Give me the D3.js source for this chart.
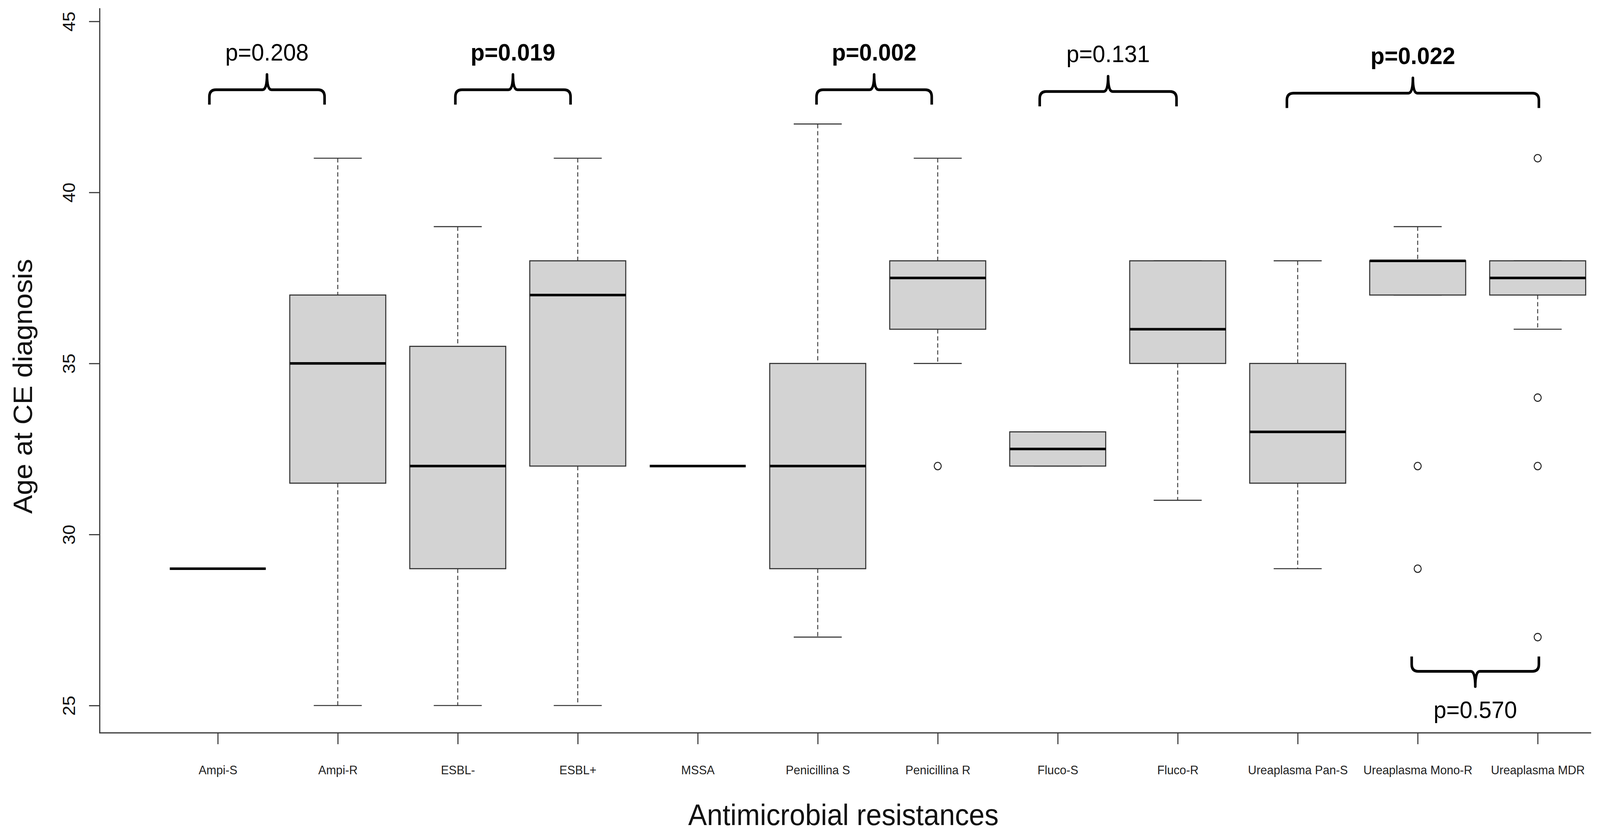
<!DOCTYPE html>
<html lang="en">
  <head>
    <meta charset="UTF-8" />
    <title>Age at CE diagnosis by antimicrobial resistance</title>
    <script src="https://d3js.org/d3.v7.min.js"></script>
    <style>
      html,
      body {
        margin: 0;
        padding: 0;
        overflow: hidden;
        background-color: #ffffff;
        font-family: "Liberation Sans", Arial, sans-serif;
      }
      svg {
        display: block;
        width: 100vw;
        height: 100vh;
      }
      .tick-x text {
        font-size: 32px;
        fill: #222;
      }
      .tick-y text {
        font-size: 46px;
        fill: #111;
      }
      .p-label {
        font-size: 62px;
        fill: #000;
        text-anchor: middle;
      }
    </style>
  </head>
  <body>
    <svg id="chart" viewBox="0 0 4331 2140" preserveAspectRatio="none"></svg>

    <script>
      // Groups and box statistics
      const categories = [
        "Ampi-S",
        "Ampi-R",
        "ESBL-",
        "ESBL+",
        "MSSA",
        "Penicillina S",
        "Penicillina R",
        "Fluco-S",
        "Fluco-R",
        "Ureaplasma Pan-S",
        "Ureaplasma Mono-R",
        "Ureaplasma MDR",
      ];
      const whiskerLow = [29, 25, 25, 25, 32, 27, 35, 32, 31, 29, 37, 36];
      const q1 = [29, 31.5, 29, 32, 32, 29, 36, 32, 35, 31.5, 37, 37];
      const medians = [29, 35, 32, 37, 32, 32, 37.5, 32.5, 36, 33, 38, 37.5];
      const q3 = [29, 37, 35.5, 38, 32, 35, 38, 33, 38, 35, 38, 38];
      const whiskerHigh = [29, 41, 39, 41, 32, 42, 41, 33, 38, 38, 39, 38];
      const outliers = [[], [], [], [], [], [], [32], [], [], [], [32, 29], [41, 34, 32, 27]];

      const yTicks = [25, 30, 35, 40, 45];

      // p-value annotations (brace span in group positions, brace level in years)
      const pLabels = ["p=0.208", "p=0.019", "p=0.002", "p=0.131", "p=0.022", "p=0.570"];
      const pBold = [false, true, true, false, true, false];
      const braceFrom = [0.93, 2.98, 5.99, 7.85, 9.91, 10.95];
      const braceTo = [1.89, 3.94, 6.95, 8.99, 12.01, 12.01];
      const braceLevel = [43, 43, 43, 42.95, 42.9, 26];
      const braceUp = [true, true, true, true, true, false];

      const svg = d3.select("#chart");

      const axisLeftX = 270,
        axisBottomY = 1876;

      const x = d3.scaleLinear().domain([1, 12]).range([589.5, 4162.3]);
      const y = d3.scaleLinear().domain([25, 45]).range([1806, 54.7]);
      const step = x(2) - x(1);
      const boxW = step * 0.8;
      const capW = step * 0.4;

      const groups = categories.map((c, i) => ({
        label: c,
        pos: i + 1,
        lo: whiskerLow[i],
        q1: q1[i],
        med: medians[i],
        q3: q3[i],
        hi: whiskerHigh[i],
        out: outliers[i],
      }));

      const g = svg
        .selectAll(".box")
        .data(groups)
        .enter()
        .append("g")
        .attr("class", "box");

      // Whiskers (dashed)
      g.append("line")
        .attr("x1", (d) => x(d.pos))
        .attr("x2", (d) => x(d.pos))
        .attr("y1", (d) => y(d.hi))
        .attr("y2", (d) => y(d.q3))
        .attr("stroke", "#333")
        .attr("stroke-width", 2.4)
        .attr("stroke-dasharray", "11,7");
      g.append("line")
        .attr("x1", (d) => x(d.pos))
        .attr("x2", (d) => x(d.pos))
        .attr("y1", (d) => y(d.q1))
        .attr("y2", (d) => y(d.lo))
        .attr("stroke", "#333")
        .attr("stroke-width", 2.4)
        .attr("stroke-dasharray", "11,7");

      // Staples
      ["hi", "lo"].forEach((k) => {
        g.append("line")
          .attr("x1", (d) => x(d.pos) - capW / 2)
          .attr("x2", (d) => x(d.pos) + capW / 2)
          .attr("y1", (d) => y(d[k]))
          .attr("y2", (d) => y(d[k]))
          .attr("stroke", "#333")
          .attr("stroke-width", 2.6);
      });

      // Boxes
      g.filter((d) => d.q3 > d.q1)
        .append("rect")
        .attr("x", (d) => x(d.pos) - boxW / 2)
        .attr("width", boxW)
        .attr("y", (d) => y(d.q3))
        .attr("height", (d) => y(d.q1) - y(d.q3))
        .attr("fill", "#d3d3d3")
        .attr("stroke", "#333")
        .attr("stroke-width", 2.8);

      // Medians
      g.append("line")
        .attr("x1", (d) => x(d.pos) - boxW / 2)
        .attr("x2", (d) => x(d.pos) + boxW / 2)
        .attr("y1", (d) => y(d.med))
        .attr("y2", (d) => y(d.med))
        .attr("stroke", "#000")
        .attr("stroke-width", 6.5);

      // Outliers
      g.selectAll(".out")
        .data((d) => d.out.map((v) => ({ pos: d.pos, v: v })))
        .enter()
        .append("circle")
        .attr("class", "out")
        .attr("cx", (d) => x(d.pos))
        .attr("cy", (d) => y(d.v))
        .attr("r", 9.5)
        .attr("fill", "#fff")
        .attr("stroke", "#222")
        .attr("stroke-width", 2.6);

      // Y axis
      const yAxis = svg
        .append("g")
        .attr("class", "tick-y")
        .attr("transform", `translate(${axisLeftX},0)`)
        .call(d3.axisLeft(y).tickValues(yTicks).tickSize(29).tickSizeOuter(0));
      yAxis.select(".domain").remove();
      yAxis.selectAll(".tick line").attr("stroke", "#333").attr("stroke-width", 2.8);
      yAxis
        .selectAll(".tick text")
        .attr("x", null)
        .attr("dy", null)
        .attr("text-anchor", "middle")
        .attr("font-family", "'Liberation Sans', Arial, sans-serif")
        .attr("transform", "translate(-67,0) rotate(-90)");
      svg
        .append("line")
        .attr("x1", axisLeftX)
        .attr("x2", axisLeftX)
        .attr("y1", y(45.385))
        .attr("y2", axisBottomY)
        .attr("stroke", "#333")
        .attr("stroke-width", 3);

      // X axis
      const xAxis = svg
        .append("g")
        .attr("class", "tick-x")
        .attr("transform", `translate(0,${axisBottomY})`)
        .call(
          d3
            .axisBottom(x)
            .tickValues(d3.range(1, 13))
            .tickFormat((d) => categories[d - 1])
            .tickSize(29)
            .tickSizeOuter(0)
        );
      xAxis.select(".domain").remove();
      xAxis.selectAll(".tick line").attr("stroke", "#333").attr("stroke-width", 2.8);
      xAxis
        .selectAll(".tick text")
        .attr("y", 106)
        .attr("dy", null)
        .attr("font-family", "'Liberation Sans', Arial, sans-serif");
      svg
        .append("line")
        .attr("x1", axisLeftX - 1.5)
        .attr("x2", 4307)
        .attr("y1", axisBottomY)
        .attr("y2", axisBottomY)
        .attr("stroke", "#333")
        .attr("stroke-width", 3);

      // Axis titles
      svg
        .append("text")
        .attr("transform", "translate(87,989) rotate(-90)")
        .attr("text-anchor", "middle")
        .style("font-size", "72px")
        .style("fill", "#111")
        .text("Age at CE diagnosis");
      svg
        .append("text")
        .attr("x", 2283)
        .attr("y", 2112)
        .attr("text-anchor", "middle")
        .style("font-size", "76px")
        .style("fill", "#111")
        .text("Antimicrobial resistances");

      // Curly braces with p-values
      function bracePath(x0, x1, yH, up) {
        const dir = up ? 1 : -1;
        const arm = 38 * dir,
          tip = -39 * dir,
          r = 18,
          r2 = 12,
          xm = (x0 + x1) / 2;
        return (
          `M${x0},${yH + arm} L${x0},${yH + r * dir} Q${x0},${yH} ${x0 + r},${yH} ` +
          `L${xm - r2},${yH} Q${xm},${yH} ${xm},${yH + tip} Q${xm},${yH} ${xm + r2},${yH} ` +
          `L${x1 - r},${yH} Q${x1},${yH} ${x1},${yH + r * dir} L${x1},${yH + arm}`
        );
      }

      const notes = pLabels.map((p, i) => ({
        label: p,
        bold: pBold[i],
        from: braceFrom[i],
        to: braceTo[i],
        level: braceLevel[i],
        up: braceUp[i],
      }));

      const ng = svg.selectAll(".note").data(notes).enter().append("g").attr("class", "note");

      ng.append("path")
        .attr("d", (d) => bracePath(x(d.from), x(d.to), y(d.level), d.up))
        .attr("fill", "none")
        .attr("stroke", "#000")
        .attr("stroke-width", 7)
        .attr("stroke-linejoin", "round");

      ng.append("text")
        .attr("class", "p-label")
        .attr("x", (d) => (x(d.from) + x(d.to)) / 2)
        .attr("y", (d) => (d.up ? y(d.level) - 75 : y(d.level) + 120))
        .style("font-weight", (d) => (d.bold ? "bold" : "normal"))
        .text((d) => d.label);
    </script>
  </body>
</html>
